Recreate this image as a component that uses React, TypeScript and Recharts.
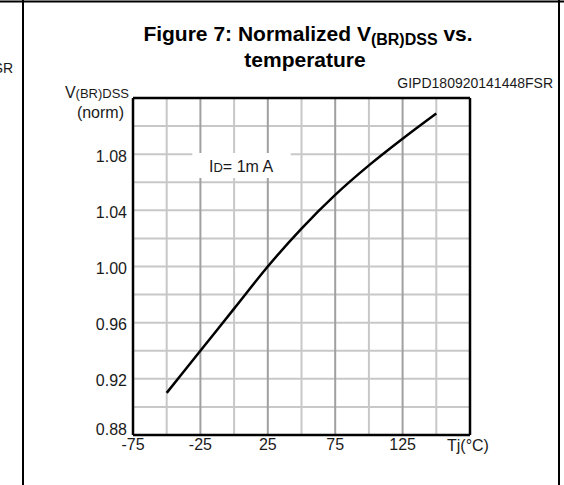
import React from 'react';
import { LineChart, Line, XAxis, YAxis, ReferenceLine } from 'recharts';

const temps = [-50, -25, 0, 25, 50, 75, 100, 125, 150];
const vbr = [0.91, 0.94, 0.97, 1.0, 1.027, 1.051, 1.072, 1.091, 1.109];
const xTicks = [-75, -25, 25, 75, 125];
const yTicks = [0.88, 0.92, 0.96, 1.0, 1.04, 1.08];
const xGridMajor = [-25, 25, 75, 125];
const xGridMinor = [-50, 0, 50, 100, 150];
const yGrid = [0.9, 0.92, 0.94, 0.96, 0.98, 1.0, 1.02, 1.04, 1.06, 1.08, 1.1];

const data = temps.map((t, i) => ({ t, v: vbr[i] }));

const FONT = 'Arial, "Liberation Sans", Helvetica, sans-serif';

const YTick = (props: any) => {
  const { x, y, payload } = props;
  const shift = payload.value === 0.88 ? -6 : 1;
  return (
    <text x={x} y={y + shift} dy="0.4em" textAnchor="end" fontFamily={FONT} fontSize={16} fill="#1a1a1a">
      {payload.value.toFixed(2)}
    </text>
  );
};

const XTick = (props: any) => {
  const { x, y, payload } = props;
  return (
    <text x={x} y={y} dy="0.8em" textAnchor="middle" fontFamily={FONT} fontSize={16} fill="#1a1a1a">
      {String(payload.value)}
    </text>
  );
};

export default function App() {
  return (
    <div style={{ position: 'absolute', left: 0, top: 0, width: 564, height: 485, background: '#fff' }}>
      <svg width={564} height={485} style={{ position: 'absolute', left: 0, top: 0 }}>
        <line x1={0} y1={1.5} x2={564} y2={1.5} stroke="#000" strokeWidth={2} />
        <line x1={23} y1={0} x2={23} y2={485} stroke="#000" strokeWidth={2} />
        <line x1={559} y1={0} x2={559} y2={485} stroke="#000" strokeWidth={2} />
        <text x={13} y={73} textAnchor="end" fontFamily={FONT} fontSize={14} fill="#1a1a1a">FSR</text>
        <text x={308} y={41} textAnchor="middle" fontFamily={FONT} fontSize={21} fontWeight="bold" fill="#000">
          Figure 7: Normalized V<tspan fontSize={16} dy={4}>(BR)DSS</tspan><tspan dy={-4}> vs.</tspan>
        </text>
        <text x={305} y={67} textAnchor="middle" fontFamily={FONT} fontSize={21} fontWeight="bold" fill="#000">
          temperature
        </text>
        <text x={553} y={88} textAnchor="end" fontFamily={FONT} fontSize={14} fill="#1a1a1a">GIPD180920141448FSR</text>
        <text x={129} y={98} textAnchor="end" fontFamily={FONT} fontSize={16} fill="#1a1a1a">
          V<tspan fontSize={13}>(BR)DSS</tspan>
        </text>
        <text x={124} y={118} textAnchor="end" fontFamily={FONT} fontSize={16} fill="#1a1a1a">(norm)</text>
        <text x={447} y={451} fontFamily={FONT} fontSize={16} fill="#1a1a1a">Tj(°C)</text>
      </svg>
      <div style={{ position: 'absolute', left: 0, top: 0 }}>
        <LineChart width={564} height={485} data={data} margin={{ top: 98, right: 94, bottom: 20, left: 73 }}>
          <XAxis
            dataKey="t"
            type="number"
            domain={[-75, 175]}
            ticks={xTicks}
            tick={<XTick />}
            tickSize={0}
            tickMargin={2}
            height={30}
            axisLine={false}
            tickLine={false}
          />
          <YAxis
            type="number"
            domain={[0.88, 1.12]}
            ticks={yTicks}
            tick={<YTick />}
            tickSize={0}
            tickMargin={6}
            width={60}
            axisLine={false}
            tickLine={false}
          />
          {yGrid.map((v) => (
            <ReferenceLine key={'h' + v} y={v} stroke="#c8c8c8" strokeWidth={2} />
          ))}
          {xGridMinor.map((v) => (
            <ReferenceLine key={'vm' + v} x={v} stroke="#c8c8c8" strokeWidth={2} />
          ))}
          {xGridMajor.map((v) => (
            <ReferenceLine key={'vM' + v} x={v} stroke="#a0a0a0" strokeWidth={2} />
          ))}
          <ReferenceLine
            segment={[{ x: -31, y: 1.0719 }, { x: 42, y: 1.0719 }]}
            stroke="#fff"
            strokeWidth={25}
          />
          <ReferenceLine x={-75} stroke="#000" strokeWidth={2.5} />
          <ReferenceLine x={175} stroke="#000" strokeWidth={2.5} />
          <ReferenceLine y={0.88} stroke="#000" strokeWidth={2.5} />
          <ReferenceLine y={1.12} stroke="#000" strokeWidth={2.5} />
          <Line
            type="monotone"
            dataKey="v"
            stroke="#000"
            strokeWidth={2.5}
            dot={false}
            isAnimationActive={false}
          />
        </LineChart>
      </div>
      <svg width={564} height={485} style={{ position: 'absolute', left: 0, top: 0, pointerEvents: 'none' }}>
        <text x={209} y={172} fontFamily={FONT} fontSize={16} fill="#1a1a1a">
          I<tspan fontSize={13}>D</tspan>= 1m A
        </text>
      </svg>
    </div>
  );
}
